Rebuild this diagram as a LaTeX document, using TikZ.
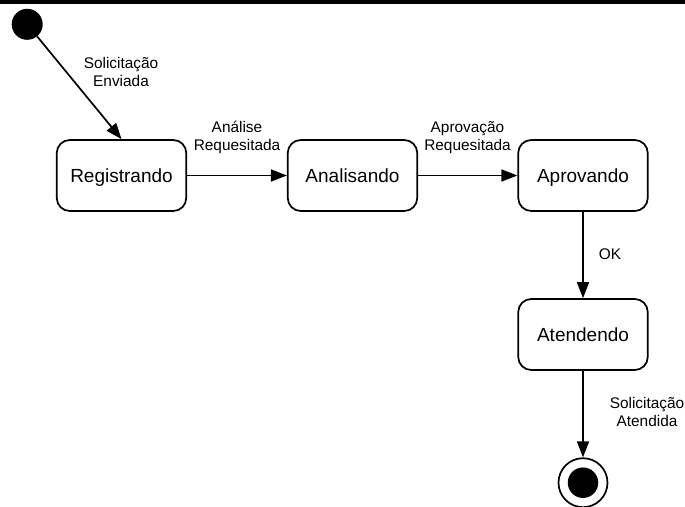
\documentclass[tikz,border=0pt]{standalone}
\usepackage{fontspec}
\setmainfont{Liberation Sans}
\usetikzlibrary{arrows.meta}

\tikzset{
  state/.style={draw, line width=1.7pt, rounded corners=13pt,
    minimum width=129.5pt, minimum height=71pt, inner sep=0pt,
    text height=13.6pt, text depth=0pt,
    font=\fontsize{19}{22}\selectfont},
  initial dot/.style={circle, fill=black, minimum size=31pt, inner sep=0pt},
  final ring/.style={circle, draw, line width=1.7pt, minimum size=49pt, inner sep=0pt},
  final dot/.style={circle, fill=black, minimum size=30.5pt, inner sep=0pt},
  trans/.style={line width=1.7pt, -{Triangle[length=16pt,width=12pt]}},
  lbl/.style={align=center, inner sep=0pt, font=\fontsize{15.4}{18}\selectfont}
}

\begin{document}
\begin{tikzpicture}[x=1pt, y=-1pt]
  \useasboundingbox (0,0) rectangle (685,506);
  % heavy rule along the top edge
  \fill (0,0) rectangle (685,3.8);

  % states
  \node[initial dot] (init) at (27.2,24.3) {};
  \node[state] (reg) at (121.5,175.5) {Registrando};
  \node[state] (ana) at (352.5,175.5) {Analisando};
  \node[state] (apr) at (583,175.5) {Aprovando};
  \node[state] (ate) at (583,334.5) {Atendendo};
  \node[final ring] (fin) at (583,482.7) {};
  \node[final dot] (finDot) at (fin.center) {};

  % transitions
  \draw[trans] (init) -- (reg.north);
  \draw[trans] (reg.east) -- (ana.west);
  \draw[trans] (ana.east) -- (apr.west);
  \draw[trans] (apr.south) -- (ate.north);
  \draw[trans] (ate.south) -- (fin.north);

  % transition labels (anchored on the baseline of their last line)
  \node[lbl, anchor=base] (lEnv) at (121,86) {Solicitação\\Enviada};
  \node[lbl, anchor=base] (lAna) at (237,150) {Análise\\Requesitada};
  \node[lbl, anchor=base] (lApr) at (467.5,150) {Aprovação\\Requesitada};
  \node[lbl, anchor=base] (lOk) at (610,259) {OK};
  \node[lbl, anchor=base] (lAte) at (647,426) {Solicitação\\Atendida};
\end{tikzpicture}
\end{document}
